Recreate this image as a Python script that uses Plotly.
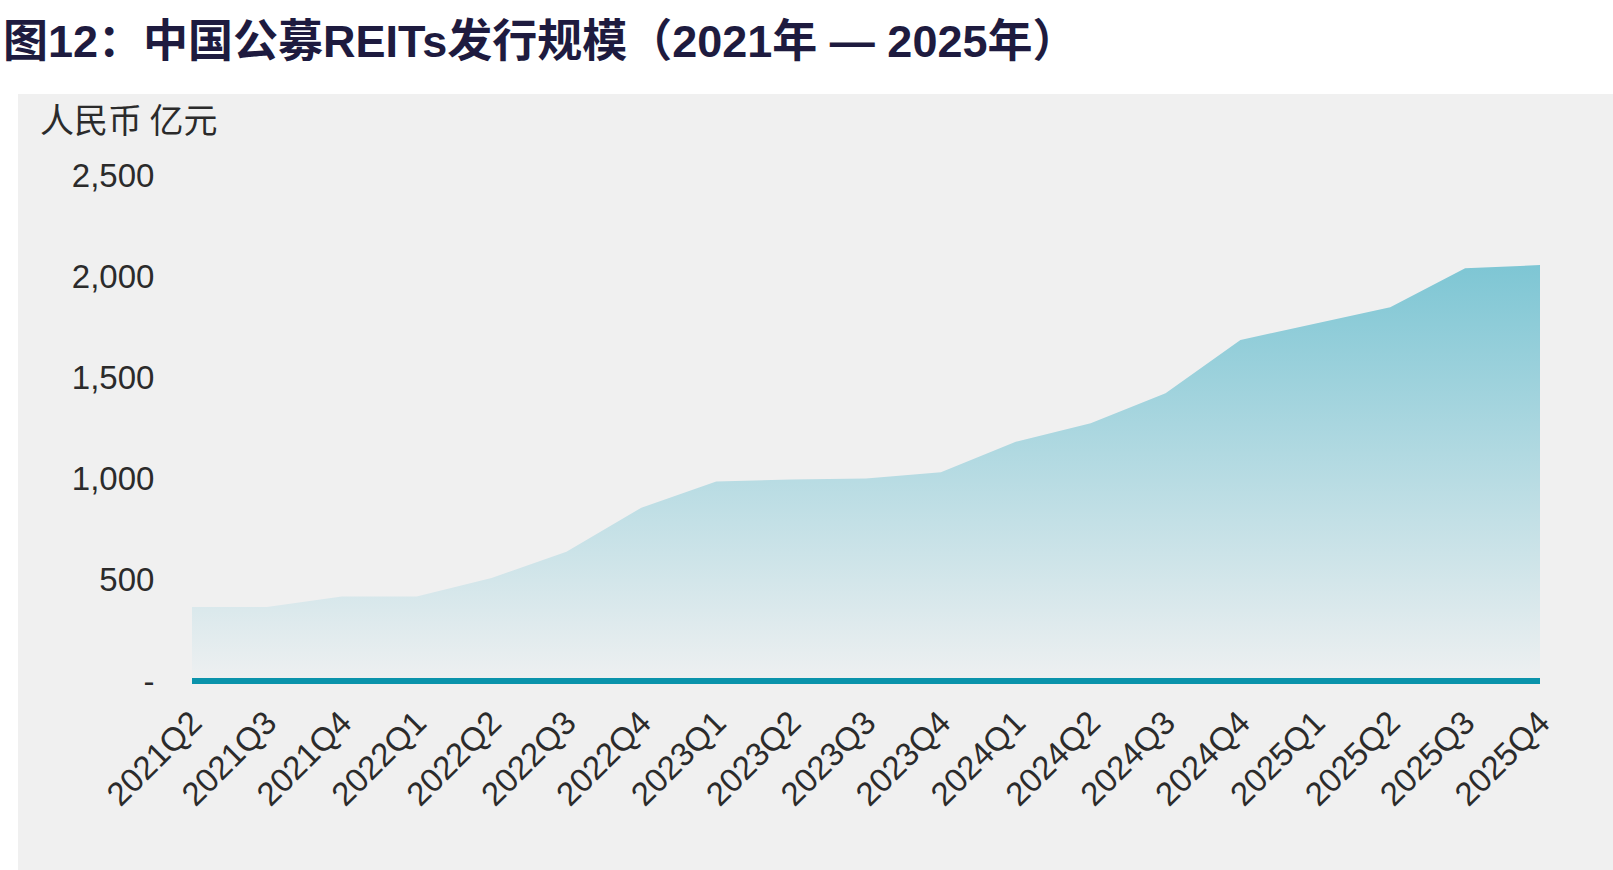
import plotly.graph_objects as go

quarters = ["2021Q2", "2021Q3", "2021Q4", "2022Q1", "2022Q2", "2022Q3", "2022Q4",
            "2023Q1", "2023Q2", "2023Q3", "2023Q4", "2024Q1", "2024Q2", "2024Q3",
            "2024Q4", "2025Q1", "2025Q2", "2025Q3", "2025Q4"]
issuance = [366, 366, 417, 417, 509, 639, 856, 985, 995, 1000, 1031, 1182, 1273,
            1421, 1685, 1767, 1846, 2039, 2055]
baseline = [0] * len(quarters)
ytick_vals = [0, 500, 1000, 1500, 2000, 2500]
ytick_text = ["-", "500", "1,000", "1,500", "2,000", "2,500"]

W, H = 1613, 870
Y_MIN = -20
px_per_unit = 506 / 2500
L, R, T = 192, 73, 175
B = round(189 + Y_MIN * px_per_unit)
plot_w = W - L - R
plot_h = H - T - B

fig = go.Figure()
fig.add_trace(go.Scatter(
    x=quarters, y=issuance, mode="lines", fill="tozeroy",
    line=dict(width=0, color="rgba(0,0,0,0)"),
    fillgradient=dict(type="vertical", start=0, stop=max(issuance),
                      colorscale=[[0, "#eef0f1"], [1, "#7ec6d4"]]),
    hoverinfo="x+y", showlegend=False))
fig.add_trace(go.Scatter(
    x=quarters, y=baseline, mode="lines",
    line=dict(width=6, color="#0a93ab"),
    hoverinfo="skip", showlegend=False))

fig.update_layout(
    width=W, height=H,
    margin=dict(l=L, r=R, t=T, b=B, pad=0),
    paper_bgcolor="#f0f0f0", plot_bgcolor="rgba(0,0,0,0)",
    font=dict(family="Liberation Sans, Arial, Noto Sans CJK SC", size=33, color="#2b2b2b"),
    xaxis=dict(type="category", range=[0, len(quarters) - 1], showgrid=False,
               zeroline=False, showline=False, tickangle=-45,
               ticks="outside", ticklen=4, tickcolor="rgba(0,0,0,0)",
               tickfont=dict(size=33, color="#2b2b2b")),
    yaxis=dict(range=[Y_MIN, 2500], tickvals=ytick_vals, ticktext=ytick_text,
               showgrid=False, zeroline=False, showline=False,
               ticks="outside", ticklen=30, tickcolor="rgba(0,0,0,0)",
               tickfont=dict(size=33, color="#2b2b2b")),
    shapes=[
        dict(type="rect", xref="paper", yref="paper",
             x0=-L / plot_w - 0.01, x1=1 + R / plot_w + 0.01,
             y0=1 + (T - 94) / plot_h, y1=1 + T / plot_h + 0.01,
             fillcolor="white", line=dict(width=0), layer="below"),
        dict(type="rect", xref="paper", yref="paper",
             x0=-L / plot_w - 0.01, x1=-(L - 18) / plot_w,
             y0=-B / plot_h - 0.01, y1=1 + T / plot_h + 0.01,
             fillcolor="white", line=dict(width=0), layer="below"),
    ],
    annotations=[
        dict(text="图12：中国公募REITs发行规模（2021年 — 2025年）",
             xref="paper", yref="paper", x=(1 - L) / plot_w, y=1 + (T - 41) / plot_h,
             xanchor="left", yanchor="middle", showarrow=False,
             font=dict(family="Liberation Sans, Arial, Noto Sans CJK SC", size=45,
                       color="#1e1b3f", weight="bold")),
        dict(text="人民币 亿元", xref="paper", yref="paper",
             x=(38 - L) / plot_w, y=1 + (T - 119) / plot_h,
             xanchor="left", yanchor="middle", showarrow=False,
             font=dict(family="Noto Sans CJK SC", size=34, color="#2b2b2b")),
    ],
)

fig.write_html("out.html")
